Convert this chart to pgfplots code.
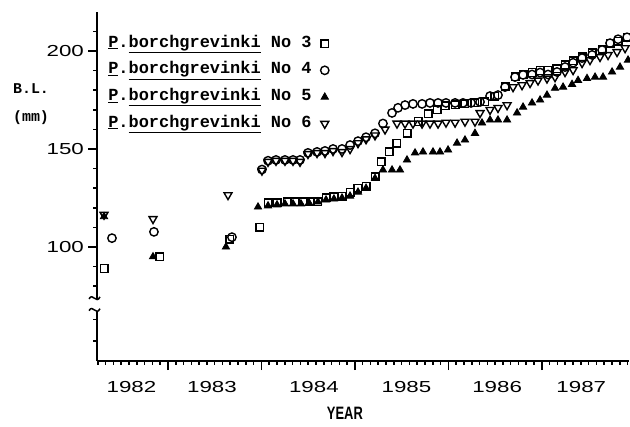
\documentclass[border=0pt]{standalone}
\usepackage{fontspec}
\usepackage{pgfplots}
\pgfplotsset{compat=1.18}
\newfontfamily\monofont{Liberation Mono}
\newfontfamily\tickfont[FakeStretch=1.4]{Liberation Sans}
\newfontfamily\yearfont[FakeStretch=0.72]{Liberation Sans}
\newcommand\legtext{\monofont\bfseries\fontsize{17}{20}\selectfont}
\newcommand\ticktext{\tickfont\fontsize{16}{16}\selectfont}
\begin{document}
\begin{tikzpicture}
\begin{axis}[
  at={(97bp,66bp)}, anchor=south west,
  scale only axis, width=532bp, height=349bp,
  xmin=1982.241, xmax=1987.93, ymin=41.8, ymax=219.9,
  clip=false,
  axis x line=bottom, axis y line=left,
  axis line style={-, line width=2bp},
  tick align=outside,
  tick style={black, line width=1.6bp},
  major tick length=9bp, minor tick length=4bp,
  xtick={1983,1984,1985,1986,1987}, xticklabels={},
  minor xtick={1982.25,1982.33333,...,1987.95},
  extra x ticks={1982.61,1983.47,1984.56,1985.55,1986.52,1987.42},
  extra x tick labels={1982,1983,1984,1985,1986,1987},
  extra x tick style={major tick length=0pt, xticklabel style={anchor=center, yshift=-26bp}},
  xticklabel style={font=\ticktext, inner sep=0pt},
  ytick={100,150,200}, yticklabels={100,150,200},
  minor ytick={52,63,80,90,110,120,130,140,160,170,180,190,210},
  yticklabel style={font=\ticktext, anchor=east, inner sep=0pt, xshift=-4bp},
  legend style={draw=none, fill=none, at={(axis description cs:0.019,0.94)}, anchor=north west,
    font=\legtext, inner sep=0pt, row sep=5.7bp, column sep=8bp,
    nodes={inner sep=1bp, text height=13bp, text depth=6bp}},
  legend cell align=left,
  legend plot pos=right,
]
% No 3 (squares)
\addplot[only marks, mark=square, mark size=3.8bp, mark options={line width=1.4bp, black}] coordinates {
(1982.316,89) (1982.914,95) (1983.663,104) (1983.984,110)
(1984.070,122.5) (1984.166,122.5) (1984.273,123) (1984.358,123) (1984.444,123) (1984.529,123)
(1984.604,123) (1984.690,125) (1984.775,125.5) (1984.861,126) (1984.947,128) (1985.032,130)
(1985.118,131) (1985.214,135.7) (1985.278,143.4) (1985.364,148.5) (1985.449,153) (1985.556,158)
(1985.674,164) (1985.781,168) (1985.877,170) (1985.963,172) (1986.070,172.5) (1986.176,173)
(1986.283,173.5) (1986.390,174) (1986.497,177) (1986.604,182) (1986.711,187) (1986.797,188)
(1986.893,189) (1986.979,190) (1987.064,190) (1987.160,191) (1987.246,193) (1987.332,195)
(1987.428,197) (1987.535,199) (1987.642,201) (1987.727,204) (1987.813,205) (1987.909,207)
};
\addlegendentry{\underline{P}.\underline{borchgrevinki} No 3}
% No 4 (circles)
\addplot[only marks, mark=o, mark size=4.2bp, mark options={line width=1.4bp, black}] coordinates {
(1982.401,104.5) (1982.850,107.7) (1983.684,105) (1984.005,139.5)
(1984.070,144) (1984.155,144.4) (1984.251,144.4) (1984.337,144.4) (1984.412,144.4) (1984.497,148)
(1984.594,148.5) (1984.679,149) (1984.765,150) (1984.861,150) (1984.947,152) (1985.032,154)
(1985.118,156) (1985.214,158) (1985.299,163) (1985.396,168.4) (1985.460,171) (1985.535,172.4)
(1985.620,173) (1985.717,173) (1985.802,173.5) (1985.888,173.5) (1985.973,173.5) (1986.070,173.5)
(1986.155,173.5) (1986.241,173.5) (1986.337,174) (1986.444,177) (1986.529,177.5) (1986.604,181.6)
(1986.711,186.7) (1986.797,187.8) (1986.893,188) (1986.979,189) (1987.064,188) (1987.160,189.3)
(1987.246,191.8) (1987.332,194) (1987.428,196.4) (1987.535,198) (1987.642,200.5) (1987.727,204)
(1987.813,206) (1987.909,207)
};
\addlegendentry{\underline{P}.\underline{borchgrevinki} No 4}
% No 5 (filled triangles)
\addplot[only marks, mark=triangle*, mark size=4.2bp, mark options={line width=0.8bp, black, fill=black}] coordinates {
(1982.316,115.5) (1982.840,95) (1983.620,100) (1983.963,120.4)
(1984.070,121) (1984.166,121.5) (1984.251,122) (1984.337,122) (1984.422,122) (1984.508,122.5)
(1984.604,123) (1984.690,124) (1984.775,124.5) (1984.861,125) (1984.947,126) (1985.032,128)
(1985.118,130) (1985.214,135) (1985.299,139.3) (1985.396,139.3) (1985.481,139.3) (1985.556,144.4)
(1985.642,148) (1985.727,148.5) (1985.834,148.5) (1985.909,148.5) (1985.995,149.5) (1986.091,153)
(1986.176,154.6) (1986.283,158) (1986.358,163.3) (1986.444,164.8) (1986.529,164.8) (1986.626,164.8)
(1986.733,168.4) (1986.797,171.4) (1986.893,173.5) (1986.979,175) (1987.053,177.5) (1987.139,181)
(1987.225,181.6) (1987.321,183) (1987.385,185) (1987.481,186) (1987.567,186.7) (1987.652,186.7)
(1987.749,189.3) (1987.834,191.8) (1987.920,195.4)
};
\addlegendentry{\underline{P}.\underline{borchgrevinki} No 5}
% No 6 (open down triangles)
\addplot[only marks, mark=triangle, mark size=4.6bp, mark options={rotate=180, line width=1.4bp, black}] coordinates {
(1982.316,116.5) (1982.840,114.3) (1983.642,126.5) (1984.005,139)
(1984.070,143.5) (1984.155,144) (1984.251,144) (1984.337,144) (1984.412,143.5) (1984.497,147.5)
(1984.594,148) (1984.679,148) (1984.765,149) (1984.861,148.5) (1984.947,150) (1985.032,153)
(1985.118,155) (1985.214,157) (1985.321,160) (1985.449,163) (1985.535,163) (1985.620,163)
(1985.717,163) (1985.802,163) (1985.888,163) (1985.973,163.5) (1986.070,163.5) (1986.176,164)
(1986.283,164) (1986.337,168.4) (1986.444,170) (1986.529,171) (1986.626,172.4) (1986.690,181.6)
(1986.786,182.6) (1986.872,183.7) (1986.957,185) (1987.053,186) (1987.139,186.7) (1987.246,189.3)
(1987.332,190.3) (1987.428,193.9) (1987.513,195.4) (1987.620,197) (1987.706,198) (1987.802,199.5)
(1987.888,201.5)
};
\addlegendentry{\underline{P}.\underline{borchgrevinki} No 6}
% axis break
\fill[white] ([xshift=-4bp]axis cs:1982.241,67.5) rectangle ([xshift=4bp]axis cs:1982.241,73.5);
\draw[line width=1.5bp] ([xshift=-8bp]axis cs:1982.241,73.5) .. controls ([xshift=-4bp]axis cs:1982.241,77) and ([xshift=-1bp]axis cs:1982.241,70.5) .. ([xshift=3bp]axis cs:1982.241,74.5);
\draw[line width=1.5bp] ([xshift=-8bp]axis cs:1982.241,67.5) .. controls ([xshift=-4bp]axis cs:1982.241,71) and ([xshift=-1bp]axis cs:1982.241,64.5) .. ([xshift=3bp]axis cs:1982.241,68.5);
\node[font=\monofont\bfseries\fontsize{15}{28}\selectfont, align=center] at (axis description cs:-0.124,0.736) {B.L.\\(mm)};
\node[font=\yearfont\bfseries\fontsize{18}{18}\selectfont] at (axis description cs:0.466,-0.149) {YEAR};
\end{axis}
\pgfresetboundingbox
\path[use as bounding box] (0,0) rectangle (630bp,427bp);
\end{tikzpicture}
\end{document}
